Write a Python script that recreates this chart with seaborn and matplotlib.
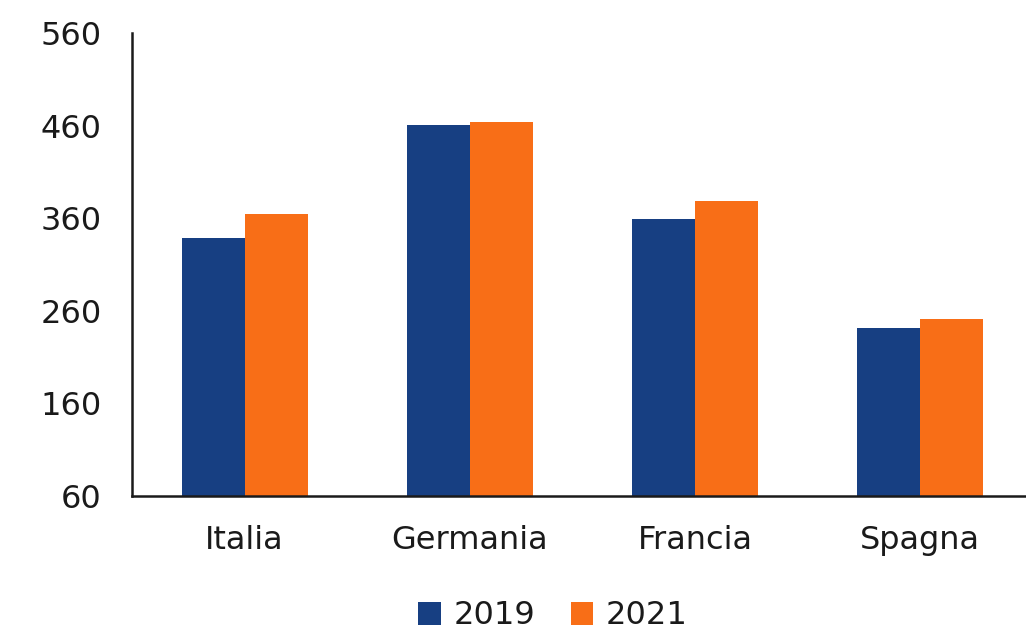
import matplotlib
matplotlib.use("Agg")
import matplotlib.pyplot as plt
import seaborn as sns
import pandas as pd

categories = ["Italia", "Germania", "Francia", "Spagna"]
years = ["2019", "2021"]
values_2019 = [339, 460.5, 359, 241]
values_2021 = [365, 463.5, 378.5, 251]
y_ticks = [60, 160, 260, 360, 460, 560]

colors = ["#173f82", "#f86e17"]

df = pd.DataFrame({
    "Paese": categories * 2,
    "Anno": [years[0]] * len(categories) + [years[1]] * len(categories),
    "Valore": values_2019 + values_2021,
})

sns.set_theme(style="white")
plt.rcParams["font.family"] = ["DejaVu Sans"]
plt.rcParams["text.color"] = "#1a1a1a"

fig = plt.figure(figsize=(10.26, 6.37), dpi=100)
ax = fig.add_axes([132 / 1026, 1 - 496 / 637, (1026 - 132) / 1026, (496 - 33) / 637])

sns.barplot(data=df, x="Paese", y="Valore", hue="Anno", order=categories,
            hue_order=years, palette=colors, saturation=1, width=0.56,
            edgecolor="none", linewidth=0, ax=ax, legend=True)

ax.set_xlim(-0.5, 3.47)
ax.set_ylim(60, 560)
ax.set_yticks(y_ticks)
ax.set_yticklabels([str(t) for t in y_ticks])
ax.set_xlabel("")
ax.set_ylabel("")
ax.tick_params(axis="both", length=0, labelsize=23, colors="#1a1a1a")
ax.tick_params(axis="y", pad=22)
ax.tick_params(axis="x", pad=21)
for s in ["top", "right"]:
    ax.spines[s].set_visible(False)
for s in ["left", "bottom"]:
    ax.spines[s].set_color("#1a1a1a")
    ax.spines[s].set_linewidth(1.8)

leg = ax.get_legend()
handles = leg.legend_handles
leg.remove()
fig.legend(handles, years, loc="center", bbox_to_anchor=(553 / 1026, 1 - 616 / 637),
           ncol=2, frameon=False, fontsize=23, handlelength=0.7, handleheight=0.7,
           handletextpad=0.4, columnspacing=1.1)

fig.savefig("out.png", dpi=100)
